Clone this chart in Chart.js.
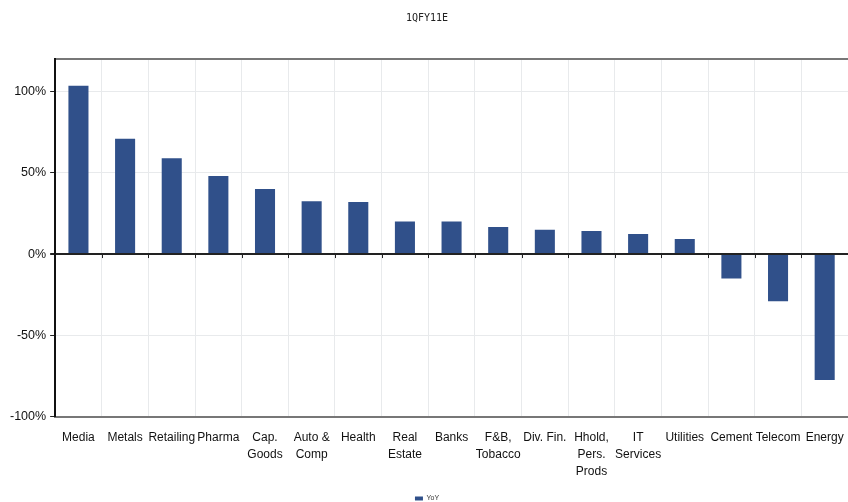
<!DOCTYPE html>
<html>
<head>
<meta charset="utf-8">
<script src="https://cdn.jsdelivr.net/npm/chart.js@4"></script>
<style>
  html, body { margin: 0; padding: 0; background: #fff; }
  #wrap { width: 848px; height: 502px; }
</style>
</head>
<body>
<div id="wrap"><canvas id="chart"></canvas></div>
<script>
// sectors (multi-line labels as arrays)
const sectors = ['Media', 'Metals', 'Retailing', 'Pharma', ['Cap.', 'Goods'], ['Auto &', 'Comp'], 'Health',
    ['Real', 'Estate'], 'Banks', ['F&B,', 'Tobacco'], 'Div. Fin.', ['Hhold,', 'Pers.', 'Prods'],
    ['IT', 'Services'], 'Utilities', 'Cement', 'Telecom', 'Energy'];
const yoy = [103.5, 71, 59, 48, 40, 32.5, 32, 20, 20, 16.7, 15, 14.2, 12.3, 9.3, -15, -29, -77.5];
const yTicks = [-100, -50, 0, 50, 100, 120];

const font = "'Liberation Sans Narrow', 'Liberation Sans', Arial, sans-serif";

// little tick marks hanging under the zero line, at category boundaries
const zeroTicks = {
    id: 'zeroTicks',
    afterDatasetsDraw(chart) {
        const x = chart.scales.x, y = chart.scales.y;
        const y0 = y.getPixelForValue(0);
        const c = chart.ctx;
        c.save();
        c.strokeStyle = '#222';
        c.lineWidth = 1;
        for (let i = 1; i < sectors.length; i++) {
            const px = Math.round((x.getPixelForValue(i - 1) + x.getPixelForValue(i)) / 2) + 0.5;
            c.beginPath();
            c.moveTo(px, y0);
            c.lineTo(px, y0 + 4);
            c.stroke();
        }
        c.restore();
    }
};

const ctx = document.getElementById('chart').getContext('2d');
new Chart(ctx, {
    type: 'bar',
    data: {
        labels: sectors,
        datasets: [{
            label: 'YoY',
            data: yoy,
            backgroundColor: '#30508a',
            borderWidth: 0,
            barPercentage: 0.43,
            categoryPercentage: 1
        }]
    },
    options: {
        responsive: true,
        maintainAspectRatio: false,
        animation: false,
        layout: { padding: { top: 4, right: 0, left: 6, bottom: -10 } },
        plugins: {
            title: {
                display: true,
                text: '1QFY11E',
                color: '#222',
                font: { family: "'DejaVu Sans Mono', monospace", size: 10, weight: 'normal' },
                padding: { top: 8, bottom: 35 }
            },
            legend: {
                position: 'bottom',
                labels: {
                    boxWidth: 8,
                    boxHeight: 4,
                    padding: 2,
                    color: '#333',
                    font: { family: font, size: 7 }
                }
            },
            tooltip: { enabled: false }
        },
        scales: {
            x: {
                afterFit: (axis) => { axis.paddingRight = 0; },
                grid: { color: '#e8eaec', lineWidth: 1, drawTicks: false },
                border: { color: '#777', width: 2 },
                ticks: {
                    color: '#111',
                    font: { family: font, size: 12, lineHeight: 1.4 },
                    maxRotation: 0,
                    autoSkip: false,
                    padding: 13
                }
            },
            y: {
                min: -100,
                max: 120,
                afterBuildTicks: (axis) => { axis.ticks = yTicks.map(v => ({ value: v })); },
                grid: {
                    color: (c) => c.tick && c.tick.value === 0 ? '#222' : (c.tick && c.tick.value === 120 ? '#777' : '#e8eaec'),
                    lineWidth: (c) => c.tick && (c.tick.value === 0 || c.tick.value === 120) ? 2 : 1,
                    tickLength: 5,
                    tickColor: (c) => c.tick && c.tick.value === 120 ? 'rgba(0,0,0,0)' : '#222'
                },
                border: { color: '#111', width: 2 },
                ticks: {
                    color: '#111',
                    font: { family: font, size: 12.5 },
                    padding: 4,
                    callback: (v) => v === 120 ? '' : v + '%'
                }
            }
        }
    },
    plugins: [zeroTicks]
});
</script>
</body>
</html>
